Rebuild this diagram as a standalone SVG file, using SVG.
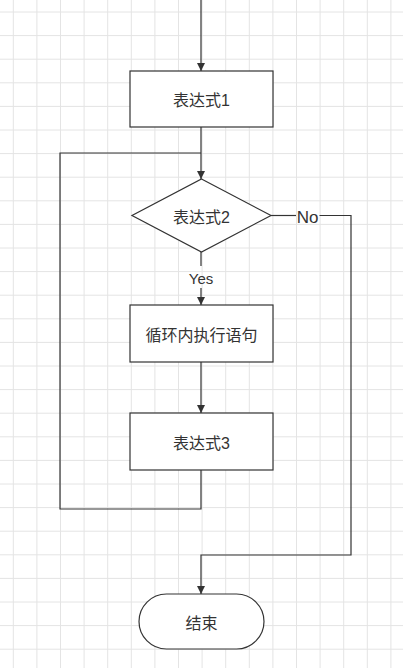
<svg xmlns="http://www.w3.org/2000/svg" width="403" height="668" viewBox="0 0 403 668">
<style>
.grid{stroke:#e4e4e4;stroke-width:1;fill:none}
.shape{fill:#ffffff;stroke:#333333;stroke-width:1.2}
.edge{fill:none;stroke:#333333;stroke-width:1.2}
.lbl{font-family:"Liberation Sans","Noto Sans CJK SC",sans-serif;font-size:16px;fill:#333333;text-anchor:middle;dominant-baseline:central}
.elbl{font-family:"Liberation Sans","Noto Sans CJK SC",sans-serif;fill:#333333;text-anchor:middle;dominant-baseline:central}
</style>
<defs>
<marker id="arrow" markerUnits="userSpaceOnUse" markerWidth="9" markerHeight="8" refX="8" refY="4" orient="auto">
<path d="M0,0 L8,4 L0,8 Z" fill="#333333"/>
</marker>
</defs>
<rect x="0" y="0" width="403" height="668" fill="#ffffff"/>
<g id="grid">
<path class="grid" d="M13.3,0V668M36.9,0V668M60.5,0V668M84.1,0V668M107.7,0V668M131.3,0V668M154.9,0V668M178.5,0V668M202.1,0V668M225.7,0V668M249.3,0V668M272.9,0V668M296.5,0V668M320.1,0V668M343.7,0V668M367.3,0V668M390.9,0V668"/>
<path class="grid" d="M0,12H403M0,35.6H403M0,59.2H403M0,82.8H403M0,106.4H403M0,130H403M0,153.6H403M0,177.2H403M0,200.8H403M0,224.4H403M0,248H403M0,271.6H403M0,295.2H403M0,318.8H403M0,342.4H403M0,366H403M0,389.6H403M0,413.2H403M0,436.8H403M0,460.4H403M0,484H403M0,507.6H403M0,531.2H403M0,554.8H403M0,578.4H403M0,602H403M0,625.6H403M0,649.2H403"/>
</g>
<g id="connectors">
<path class="edge" d="M201,0V71" marker-end="url(#arrow)"/>
<path class="edge" d="M201,127V179" marker-end="url(#arrow)"/>
<path class="edge" d="M201,470V509H60V153H201"/>
<path class="edge" d="M201,252V266"/>
<path class="edge" d="M201,288V305" marker-end="url(#arrow)"/>
<text class="elbl" x="201" y="278" font-size="15">Yes</text>
<path class="edge" d="M201,362V413" marker-end="url(#arrow)"/>
<path class="edge" d="M271,215.5H296"/>
<path class="edge" d="M319.5,215.5H351V555H201V594" marker-end="url(#arrow)"/>
<text class="elbl" x="307.7" y="217" font-size="17">No</text>
</g>
<g id="node-expr1">
<rect class="shape" x="130" y="71" width="143" height="56"/>
<text class="lbl" x="201.5" y="100.5">表达式1</text>
</g>
<g id="node-expr2">
<polygon class="shape" points="201.5,179 271,215.5 201.5,252 132,215.5"/>
<text class="lbl" x="201.5" y="217">表达式2</text>
</g>
<g id="node-body">
<rect class="shape" x="130" y="305" width="143" height="57"/>
<text class="lbl" x="201.5" y="335">循环内执行语句</text>
</g>
<g id="node-expr3">
<rect class="shape" x="130" y="413" width="143" height="57"/>
<text class="lbl" x="201.5" y="443">表达式3</text>
</g>
<g id="node-end">
<rect class="shape" x="139" y="594" width="125" height="55" rx="27.5" ry="27.5"/>
<text class="lbl" x="201.5" y="623">结束</text>
</g>
</svg>
